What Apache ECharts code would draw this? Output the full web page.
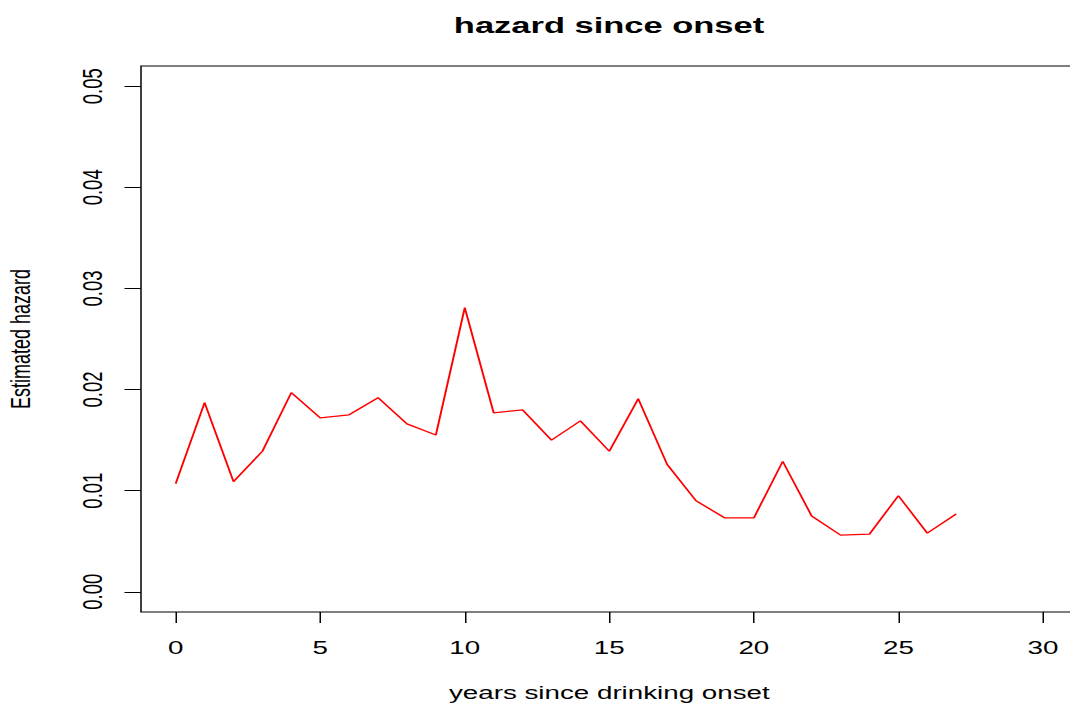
<!DOCTYPE html>
<html>
<head>
<meta charset="utf-8">
<script src="https://cdn.jsdelivr.net/npm/echarts@6/dist/echarts.min.js"></script>
<style>
html,body{margin:0;padding:0;background:#fff;overflow:hidden;width:1070px;height:704px;}
#chart{width:730px;height:704px;transform:scaleX(1.5);transform-origin:0 0;}
</style>
</head>
<body>
<div id="chart"></div>
<script>
const titleText = "hazard since onset";
const xName = "years since drinking onset";
const yName = "Estimated hazard";
const years = [0,1,2,3,4,5,6,7,8,9,10,11,12,13,14,15,16,17,18,19,20,21,22,23,24,25,26,27];
const hazard = [0.0107,0.0187,0.0109,0.0139,0.0197,0.0172,0.0175,0.0192,0.0166,0.0155,0.0281,0.0177,0.0180,0.0150,0.0169,0.0139,0.0191,0.0126,0.0090,0.0073,0.0073,0.0129,0.0075,0.0056,0.0057,0.0095,0.0058,0.0077];
const xTicks = [0,5,10,15,20,25,30];
const yTicks = [0,0.01,0.02,0.03,0.04,0.05];

const chart = echarts.init(document.getElementById('chart'), null, {renderer:'svg'});
const font = 'Liberation Sans, Arial, sans-serif';
chart.setOption({
  animation:false,
  backgroundColor:'#fff',
  title:{
    text:titleText,
    left:401, top:8, textAlign:'center',
    textStyle:{fontFamily:font,fontWeight:'bold',fontSize:23,color:'#000'}
  },
  grid:{left:94, top:66, width:624.4, height:546, show:true, borderColor:'#000', borderWidth:1, containLabel:false, outerBoundsMode:'none'},
  xAxis:{
    type:'value', min:-1.2, max:31.2,
    name:xName, nameLocation:'middle', nameGap:71,
    nameTextStyle:{fontFamily:font,fontSize:18.5,color:'#000'},
    axisLine:{show:false,onZero:false},
    axisTick:{show:true,length:11,lineStyle:{color:'#000',width:1},customValues:xTicks},
    axisLabel:{fontFamily:font,fontSize:18.5,color:'#000',margin:26,customValues:xTicks,formatter:v=>String(v)},
    splitLine:{show:false}
  },
  yAxis:{
    type:'value', min:-0.002, max:0.052,
    name:yName, nameLocation:'middle', nameGap:71,
    nameTextStyle:{fontFamily:font,fontSize:18,color:'#000'},
    axisLine:{show:false,onZero:false},
    axisTick:{show:true,length:11,lineStyle:{color:'#000',width:1},customValues:yTicks},
    axisLabel:{fontFamily:font,fontSize:18.5,color:'#000',margin:23,rotate:90,customValues:yTicks,formatter:v=>v.toFixed(2)},
    splitLine:{show:false}
  },
  series:[{
    type:'line',
    data:years.map((x,i)=>[x,hazard[i]]),
    showSymbol:false,
    lineStyle:{color:'#ff0000',width:1.3},
    itemStyle:{color:'#ff0000'}
  }]
});
</script>
</body>
</html>
